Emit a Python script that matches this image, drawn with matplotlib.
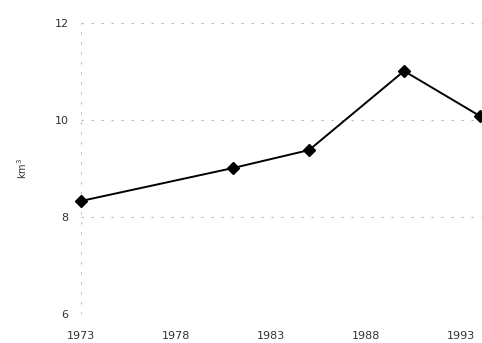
import matplotlib
matplotlib.use("Agg")
import matplotlib.pyplot as plt

# values
years = [1973, 1981, 1985, 1990, 1994]
volume_km3 = [8.33, 9.01, 9.38, 11.01, 10.08]
x_ticks = [1973, 1978, 1983, 1988, 1993]
y_ticks = [6, 8, 10, 12]

fig = plt.figure(figsize=(4.82, 3.43), dpi=100)
ax = fig.add_axes([81 / 482, 1 - 314 / 343, (482 - 81) / 482, (314 - 23) / 343])

# faint dashed grid like the scanned original
for y in y_ticks:
    ax.axhline(y, color="#b8b8b8", lw=0.8, ls=(0, (2, 7)), zorder=0)
ax.axvline(1973, color="#b8b8b8", lw=0.8, ls=(0, (2, 7)), zorder=0)

ax.plot(years, volume_km3, color="black", lw=1.4, marker="D", markersize=6,
        markerfacecolor="black", markeredgecolor="black", clip_on=False, zorder=3)

ax.set_xlim(1973, 1994.1)
ax.set_ylim(6, 12)
ax.set_xticks(x_ticks)
ax.set_yticks(y_ticks)
ax.tick_params(length=0, labelsize=8, colors="#333333")
ax.tick_params(axis="x", pad=12)
ax.tick_params(axis="y", pad=9)
ax.set_ylabel("km$^3$", fontsize=7, color="#333333", labelpad=18)

for s in ax.spines.values():
    s.set_visible(False)

fig.savefig("out.png", dpi=100)
